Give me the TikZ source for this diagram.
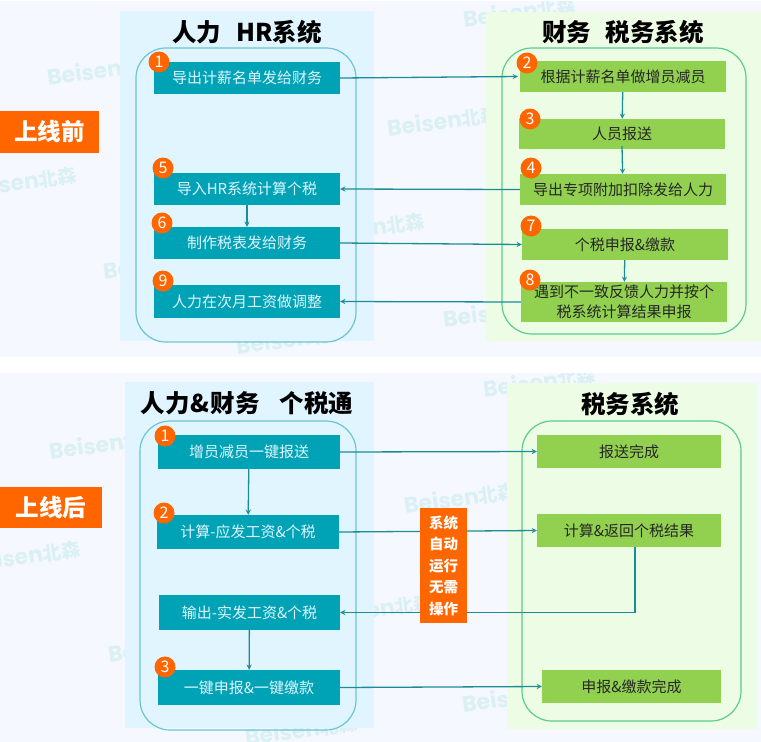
\documentclass[tikz,border=0pt]{standalone}
\usepackage{fontspec}
\setmainfont{Noto Sans CJK SC}
\newfontfamily\logofont{Poppins}
\newcommand{\beisenlogo}{Beisen{\rmfamily\bfseries\fontsize{19}{19}\selectfont 北森}}
\definecolor{bandbg}{HTML}{F5F9FF}
\definecolor{hrbg}{HTML}{E0F5FF}
\definecolor{taxbg}{HTML}{EDFDE5}
\definecolor{hrline}{HTML}{6CC5D0}
\definecolor{taxline}{HTML}{5CCB8F}
\definecolor{tealbox}{HTML}{00A3B5}
\definecolor{greenbox}{HTML}{92D050}
\definecolor{flowline}{HTML}{1C8C96}
\definecolor{badgeorange}{HTML}{FF6600}
\definecolor{logotint}{HTML}{DAF0F5}
\begin{document}
\begin{tikzpicture}[x=1pt, y=-1pt, >=stealth]
  % Define styles
  \tikzstyle{band}=[fill=bandbg, draw=none]
  \tikzstyle{hrpanel}=[fill=hrbg, draw=none]
  \tikzstyle{taxpanel}=[fill=taxbg, draw=none]
  \tikzstyle{hrframe}=[rectangle, rounded corners=30pt, draw=hrline, line width=1.2pt, inner sep=0pt]
  \tikzstyle{taxframe}=[rectangle, rounded corners=30pt, draw=taxline, line width=1.2pt, inner sep=0pt]
  \tikzstyle{hrstep}=[rectangle, fill=tealbox, text=hrbg, font=\fontsize{15}{18}\selectfont, inner sep=0pt]
  \tikzstyle{taxstep}=[rectangle, fill=greenbox, text=black!85, font=\fontsize{15}{19.5}\selectfont, align=center, inner sep=0pt]
  \tikzstyle{badge}=[circle, fill=badgeorange, text=white, font=\fontsize{16}{16}\selectfont, minimum size=21pt, inner sep=0pt]
  \tikzstyle{phase}=[rectangle, fill=badgeorange, text=white, font=\fontsize{23.5}{23.5}\selectfont\bfseries, inner sep=0pt]
  \tikzstyle{heading}=[font=\fontsize{24.5}{24.5}\selectfont\bfseries, text=black]
  \tikzstyle{transition}=[->, flowline, line width=1.3pt]
  \tikzstyle{wmark}=[text=logotint, rotate=8, font=\fontsize{22}{22}\selectfont\logofont\bfseries, anchor=west, inner sep=0pt]

  \useasboundingbox (0,0) rectangle (761,742);
  \fill[white] (0,0) rectangle (761,742);

  % Bands
  \fill[band] (0,1) rectangle (761,357);
  \fill[band] (0,373) rectangle (761,742);

  % Watermarks
  \begin{scope}
    \clip (0,1) rectangle (761,357);
    \node[wmark] (logoa) at (47,78) {\beisenlogo};
    \node[wmark] (logob) at (-36,190) {\beisenlogo};
    \node[wmark] (logoc) at (103,272) {\beisenlogo};
    \node[wmark] (logod) at (236,347) {\beisenlogo};
    \node[wmark] (logoe) at (463,20) {\beisenlogo};
    \node[wmark] (logof) at (387,129) {\beisenlogo};
    \node[wmark] (logog) at (312,236) {\beisenlogo};
    \node[wmark] (logoh) at (443,320) {\beisenlogo};
  \end{scope}
  \begin{scope}
    \clip (0,373) rectangle (761,742);
    \node[wmark] (logoi) at (49,452) {\beisenlogo};
    \node[wmark] (logoj) at (-32,564) {\beisenlogo};
    \node[wmark] (logok) at (108,655) {\beisenlogo};
    \node[wmark] (logol) at (245,738) {\beisenlogo};
    \node[wmark] (logom) at (483,390) {\beisenlogo};
    \node[wmark] (logon) at (404,506) {\beisenlogo};
    \node[wmark] (logoo) at (320,617) {\beisenlogo};
    \node[wmark] (logop) at (462,705) {\beisenlogo};
  \end{scope}

  % Panels
  \fill[hrpanel] (120,11) rectangle (374,341);
  \fill[taxpanel] (486,12) rectangle (761,341);
  \fill[hrpanel] (125,382) rectangle (374,728);
  \fill[taxpanel] (507,383) rectangle (757,729);

  % Frames
  \node[hrframe, minimum width=220pt, minimum height=294pt] (hrframea) at (246,195) {};
  \node[taxframe, minimum width=244pt, minimum height=286pt] (taxframea) at (624,191) {};
  \node[hrframe, minimum width=216pt, minimum height=309pt] (hrframeb) at (248,575.5) {};
  \node[taxframe, minimum width=219pt, minimum height=300pt] (taxframeb) at (631.5,571) {};

  % Headings
  \node[heading] (hrtitle) at (247,32) {人力\hspace{0.6em}HR系统};
  \node[heading] (taxtitle) at (623,32) {财务\hspace{0.6em}税务系统};
  \node[heading] (bothtitle) at (247,403) {人力\hspace{1pt}\&\hspace{1pt}财务\hspace{0.8em}个税通};
  \node[heading] (systitle) at (630,404) {税务系统};

  % Phases
  \node[phase, minimum width=99pt, minimum height=42pt] (before) at (49.5,132) {\raisebox{-1.5pt}{上线前}};
  \node[phase, minimum width=102pt, minimum height=41pt] (after) at (51,507.5) {\raisebox{-1.5pt}{上线后}};

  % Steps before
  \node[hrstep, minimum width=186pt, minimum height=32pt] (export) at (247,78) {导出计薪名单发给财务};
  \node[hrstep, minimum width=186pt, minimum height=32pt] (import) at (247,189) {导入HR系统计算个税};
  \node[hrstep, minimum width=186pt, minimum height=32pt] (taxsheet) at (247,243) {制作税表发给财务};
  \node[hrstep, minimum width=186pt, minimum height=33pt] (adjust) at (247,301.5) {人力在次月工资做调整};
  \node[taxstep, minimum width=206pt, minimum height=31pt] (change) at (623,76.5) {根据计薪名单做增员减员};
  \node[taxstep, minimum width=206pt, minimum height=30pt] (report) at (622,134) {人员报送};
  \node[taxstep, minimum width=206pt, minimum height=31pt] (deduct) at (623,189.5) {导出专项附加扣除发给人力};
  \node[taxstep, minimum width=206pt, minimum height=31pt] (declare) at (625,244.5) {个税申报\&缴款};
  \node[taxstep, minimum width=206pt, minimum height=40pt] (mismatch) at (624,302) {遇到不一致反馈人力并按个\\税系统计算结果申报};

  % Steps after
  \node[hrstep, minimum width=182pt, minimum height=34pt] (oneclick) at (249,452) {增员减员一键报送};
  \node[hrstep, minimum width=182pt, minimum height=34pt] (calc) at (248,532) {计算-应发工资\&个税};
  \node[hrstep, minimum width=181pt, minimum height=35pt] (output) at (249.5,612.5) {输出-实发工资\&个税};
  \node[hrstep, minimum width=182pt, minimum height=35pt] (filing) at (249,687.5) {一键申报\&一键缴款};
  \node[taxstep, minimum width=184pt, minimum height=33pt] (reportdone) at (629,451.5) {报送完成};
  \node[taxstep, minimum width=184pt, minimum height=33pt] (result) at (629,530.5) {计算\&返回个税结果};
  \node[taxstep, minimum width=179pt, minimum height=33pt] (filingdone) at (631.5,686.5) {申报\&缴款完成};

  % Transitions
  \draw[transition] (export.east) -- ([xshift=-2pt]change.west);
  \draw[transition] (change) -- (report);
  \draw[transition] ([yshift=3pt]report.south) -- (deduct);
  \draw[transition] (deduct.west) -- (import.east);
  \draw[transition] (import) -- (taxsheet);
  \draw[transition] (taxsheet.east) -- (declare.west);
  \draw[transition] (declare) -- (mismatch);
  \draw[transition] (mismatch.west) -- (adjust.east);
  \draw[transition] (oneclick.east) -- (reportdone.west);
  \draw[transition] (oneclick) -- (calc);
  \draw[transition] (calc.east) -- (result.west);
  \draw[transition] ([xshift=6pt]result.south) |- (output.east);
  \draw[transition] (output) -- (filing);
  \draw[transition] (filing.east) -- (filingdone.west);

  % Automatic note
  \node[rectangle, fill=badgeorange, text=white, align=center, inner sep=0pt, minimum width=47pt, minimum height=115pt, font=\fontsize{14.5}{21.5}\selectfont\bfseries] (auto) at (443.5,565.5) {系统\\自动\\运行\\无需\\操作};

  % Badges
  \node[badge] (nba) at (159,62) {1};
  \node[badge] (nbb) at (527,63) {2};
  \node[badge] (nbc) at (530,119) {3};
  \node[badge] (nbd) at (531,168) {4};
  \node[badge] (nbe) at (163,168) {5};
  \node[badge] (nbf) at (162,223) {6};
  \node[badge] (nbg) at (531,226) {7};
  \node[badge] (nbh) at (530,280) {8};
  \node[badge] (nbi) at (163,281) {9};
  \node[badge] (nbj) at (165,436) {1};
  \node[badge] (nbk) at (164,513) {2};
  \node[badge] (nbl) at (165,667) {3};
\end{tikzpicture}
\end{document}
